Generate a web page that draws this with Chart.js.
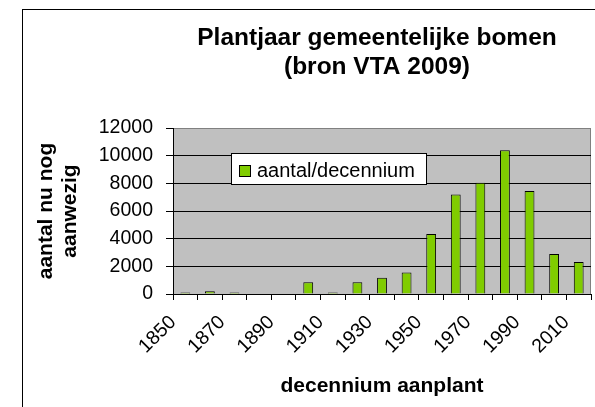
<!DOCTYPE html>
<html><head><meta charset="utf-8">
<script src="https://cdn.jsdelivr.net/npm/chart.js@4/dist/chart.umd.min.js"></script>
<style>html,body{margin:0;padding:0;background:#fff;}canvas{display:block;}</style>
</head><body>
<canvas id="c" width="595" height="407"></canvas>
<script>
const categories = ['1850','1860','1870','1880','1890','1900','1910','1920','1930','1940','1950','1960','1970','1980','1990','2000','2010'];
const tickLabels = ['1850','','1870','','1890','','1910','','1930','','1950','','1970','','1990','','2010'];
const values = [100,200,100,0,0,850,100,850,1170,1560,4340,7200,8050,10400,7450,2900,2320];
const seriesName = 'aantal/decennium';
const titleLines = ['Plantjaar gemeentelijke bomen','(bron VTA 2009)'];
const yTitleLines = ['aantal nu nog','aanwezig'];
const xTitleText = 'decennium aanplant';
const yMin = 0, yMax = 12000, yStep = 2000;

const FONT = "'Liberation Sans', Arial, sans-serif";
const BAR_COLOR = '#80CC00';

const decorPlugin = {
  id: 'decor',
  beforeDraw(chart) {
    const {ctx, chartArea: a} = chart;
    ctx.save();
    ctx.fillStyle = '#fff';
    ctx.fillRect(0, 0, chart.width, chart.height);
    ctx.fillStyle = '#C0C0C0';
    ctx.fillRect(a.left, a.top, a.right - a.left, a.bottom - a.top);
    ctx.strokeStyle = '#808080';
    ctx.lineWidth = 1;
    ctx.strokeRect(a.left + 0.5, a.top + 0.5, a.right - a.left - 1, a.bottom - a.top);
    ctx.restore();
  },
  afterDraw(chart) {
    const {ctx, chartArea: a} = chart;
    ctx.save();
    // outer frame
    ctx.strokeStyle = '#000';
    ctx.lineWidth = 1;
    ctx.strokeRect(22.5, 9.5, 800, 600);
    // title
    ctx.fillStyle = '#000';
    ctx.font = 'bold 24.5px ' + FONT;
    ctx.textAlign = 'center';
    ctx.textBaseline = 'alphabetic';
    const cx = (a.left + a.right) / 2 - 5;
    ctx.fillText(titleLines[0], cx, 45);
    ctx.fillText(titleLines[1], cx, 74);
    // legend box
    const ds = chart.data.datasets[0];
    const bx = a.left + 58, by = a.top + 25, bw = 195, bh = 31;
    ctx.fillStyle = '#fff';
    ctx.fillRect(bx, by, bw, bh);
    ctx.strokeStyle = '#000';
    ctx.strokeRect(bx + 0.5, by + 0.5, bw, bh);
    ctx.fillStyle = ds.backgroundColor;
    ctx.fillRect(bx + 8, by + 12, 12, 12);
    ctx.strokeRect(bx + 8.5, by + 12.5, 11, 11);
    ctx.fillStyle = '#000';
    ctx.font = '20px ' + FONT;
    ctx.textAlign = 'left';
    ctx.fillText(ds.label, bx + 26, by + 24);
    ctx.restore();
  }
};

new Chart(document.getElementById('c'), {
  type: 'bar',
  data: {
    labels: categories,
    datasets: [{
      label: seriesName,
      data: values,
      backgroundColor: BAR_COLOR,
      borderColor: '#000',
      borderWidth: 1,
      barPercentage: 0.4,
      categoryPercentage: 1.0
    }]
  },
  options: {
    responsive: false,
    animation: false,
    devicePixelRatio: 1,
    layout: { padding: { left: 34, right: 4, top: 128, bottom: 9 } },
    plugins: {
      legend: { display: false },
      title: { display: false },
      tooltip: { enabled: false }
    },
    scales: {
      x: {
        offset: true,
        grid: { display: true, offset: true, drawOnChartArea: false, drawTicks: true, tickLength: 6, color: '#000' },
        border: { display: true, color: '#000', width: 1 },
        ticks: {
          autoSkip: false, minRotation: 45, maxRotation: 45,
          padding: 11, labelOffset: -12.3,
          color: '#000', font: { family: FONT, size: 19.5 },
          callback: (v, i) => tickLabels[i]
        },
        title: { display: true, text: xTitleText, color: '#000', padding: 0,
                 font: { family: FONT, size: 21, weight: 'bold', lineHeight: 24 / 21 } },
        afterFit(s) { s.height = 104; s.paddingLeft = 0; s.paddingRight = 0; }
      },
      y: {
        min: yMin, max: yMax,
        grid: { color: (c) => (c.tick && c.tick.value === yMax) ? '#808080' : '#000', tickColor: '#000', tickLength: 7, lineWidth: 1 },
        border: { display: true, color: '#000', width: 1 },
        ticks: { stepSize: yStep, padding: 13, color: '#000', font: { family: FONT, size: 19.5 },
                 callback: (v) => String(v) },
        title: { display: true, text: yTitleLines, color: '#000', padding: 0,
                 font: { family: FONT, size: 21, weight: 'bold', lineHeight: 24 / 21 } },
        afterFit(s) { s.width = 139; s.paddingTop = 0; s.paddingBottom = 0; }
      }
    }
  },
  plugins: [decorPlugin]
});
</script>
</body></html>
